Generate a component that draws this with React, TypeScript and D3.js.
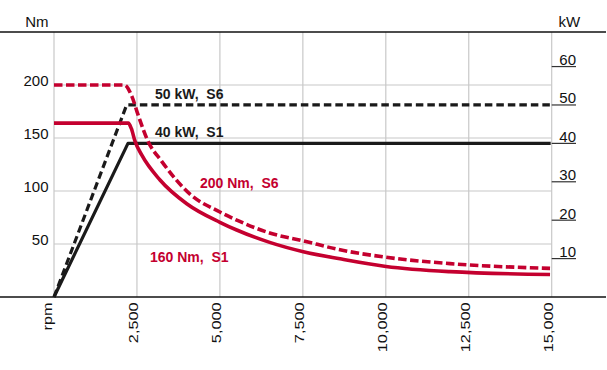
import React from "react";
import * as d3 from "d3";

const W = 607;
const H = 370;

// x axis (rpm)
const rpmTicks = [0, 2500, 5000, 7500, 10000, 12500, 15000];
const rpmTickLabels = ["rpm", "2,500", "5,000", "7,500", "10,000", "12,500", "15,000"];
// left axis (Nm)
const nmTicks = [50, 100, 150, 200];
// right axis (kW)
const kwTicks = [10, 20, 30, 40, 50, 60];

// series: rpm / value
const torqueS1Rpm = [0, 2240, 2330, 2441, 2643, 3195, 4000, 5000, 5507, 6500, 7514, 8620, 10006, 11935, 14950];
const torqueS1Nm = [164, 164, 159, 147, 134, 110.4, 88, 70.5, 63.2, 51.5, 42.7, 36, 28.8, 23.9, 21.2];

const torqueS6Rpm = [0, 2120, 2350, 2532, 2833, 3246, 4099, 5000, 5546, 6500, 7514, 8620, 10006, 11935, 14950];
const torqueS6Nm = [200, 200, 189, 172, 147, 128, 97, 80.2, 72, 60.4, 53, 44.5, 37.5, 31.5, 27];

const powerS1Rpm = [0, 2230, 14970];
const powerS1Kw = [0, 40, 40];

const powerS6Rpm = [0, 2190, 14970];
const powerS6Kw = [0, 50, 50];

const labels = [
  { text: "50 kW,  S6", x: 155, y: 99, color: "#1a1a1a" },
  { text: "40 kW,  S1", x: 155, y: 136.5, color: "#1a1a1a" },
  { text: "200 Nm,  S6", x: 200, y: 188, color: "#c4002f" },
  { text: "160 Nm,  S1", x: 150, y: 262, color: "#c4002f" },
];

const RED = "#c4002f";
const FONT = "Arial, 'Liberation Sans', Helvetica, sans-serif";

export default function App() {
  const x = d3.scaleLinear().domain([0, 15000]).range([54, 551.7]);
  const yNm = d3.scaleLinear().domain([0, 250]).range([297, 32]);
  const yKw = d3.scaleLinear().domain([0, 69]).range([297, 32]);

  const curve = d3
    .line<[number, number]>()
    .x((d) => x(d[0]))
    .y((d) => yNm(d[1]))
    .curve(d3.curveMonotoneX);
  const lin = d3
    .line<[number, number]>()
    .x((d) => x(d[0]))
    .y((d) => yKw(d[1]));

  const zip = (a: number[], b: number[]) => a.map((v, i) => [v, b[i]] as [number, number]);

  const gridColor = "#c8c8c8";
  const left = x(0);
  const right = x(15000);

  return (
    <svg
      width={W}
      height={H}
      style={{ position: "absolute", left: 0, top: 0, background: "#fff" }}
      fontFamily={FONT}
    >
      {/* vertical gridlines */}
      {rpmTicks.map((t) => (
        <line key={"vg" + t} x1={x(t)} x2={x(t)} y1={yNm(250)} y2={yNm(0)} stroke={gridColor} strokeWidth={1.2} />
      ))}
      {/* horizontal gridlines */}
      {nmTicks.map((t) => (
        <line key={"hg" + t} x1={left} x2={right} y1={yNm(t)} y2={yNm(t)} stroke={gridColor} strokeWidth={1.2} />
      ))}
      {/* top and bottom lines */}
      <line x1={0} x2={606} y1={yNm(250)} y2={yNm(250)} stroke="#111" strokeWidth={1.6} />
      <line x1={0} x2={606} y1={yNm(0)} y2={yNm(0)} stroke="#111" strokeWidth={1.6} />

      {/* left labels */}
      <text x={48.5} y={27.3} fontSize={15} textAnchor="end" fill="#111">Nm</text>
      {nmTicks.map((t) => (
        <text key={"nl" + t} x={48.5} y={yNm(t) + 0.8} fontSize={15} textAnchor="end" fill="#111">
          {t}
        </text>
      ))}

      {/* right axis */}
      <text x={558.5} y={27.3} fontSize={15} textAnchor="start" fill="#111">kW</text>
      {kwTicks.map((t) => (
        <g key={"kw" + t}>
          <line x1={right} x2={576} y1={yKw(t)} y2={yKw(t)} stroke="#333" strokeWidth={1.2} />
          <text x={576} y={yKw(t) - 1.6} fontSize={15} textAnchor="end" fill="#111">
            {t}
          </text>
        </g>
      ))}

      {/* bottom labels */}
      {rpmTicks.map((t, i) => {
        const bx = i === 0 ? x(t) - 2 : x(t) + 1.4;
        return (
          <text
            key={"xl" + t}
            transform={`translate(${bx},${302.5}) rotate(-90) scale(1.25,1)`}
            fontSize={13}
            textAnchor="end"
            fill="#111"
          >
            {rpmTickLabels[i]}
          </text>
        );
      })}

      {/* power lines */}
      <path d={lin(zip(powerS1Rpm, powerS1Kw)) || ""} fill="none" stroke="#1a1a1a" strokeWidth={3.2} strokeLinejoin="round" />
      <path
        d={lin(zip(powerS6Rpm, powerS6Kw)) || ""}
        fill="none"
        stroke="#1a1a1a"
        strokeWidth={3.2}
        strokeDasharray="7.5,4"
      />

      {/* torque lines */}
      <path d={curve(zip(torqueS1Rpm, torqueS1Nm)) || ""} fill="none" stroke={RED} strokeWidth={3.6} />
      <path
        d={curve(zip(torqueS6Rpm, torqueS6Nm)) || ""}
        fill="none"
        stroke={RED}
        strokeWidth={3.6}
        strokeDasharray="8.5,3.5"
      />

      {/* series labels */}
      {labels.map((l) => (
        <text key={l.text} x={l.x} y={l.y} fontSize={14} fontWeight="bold" fill={l.color} style={{ whiteSpace: "pre" }}>
          {l.text}
        </text>
      ))}
    </svg>
  );
}
